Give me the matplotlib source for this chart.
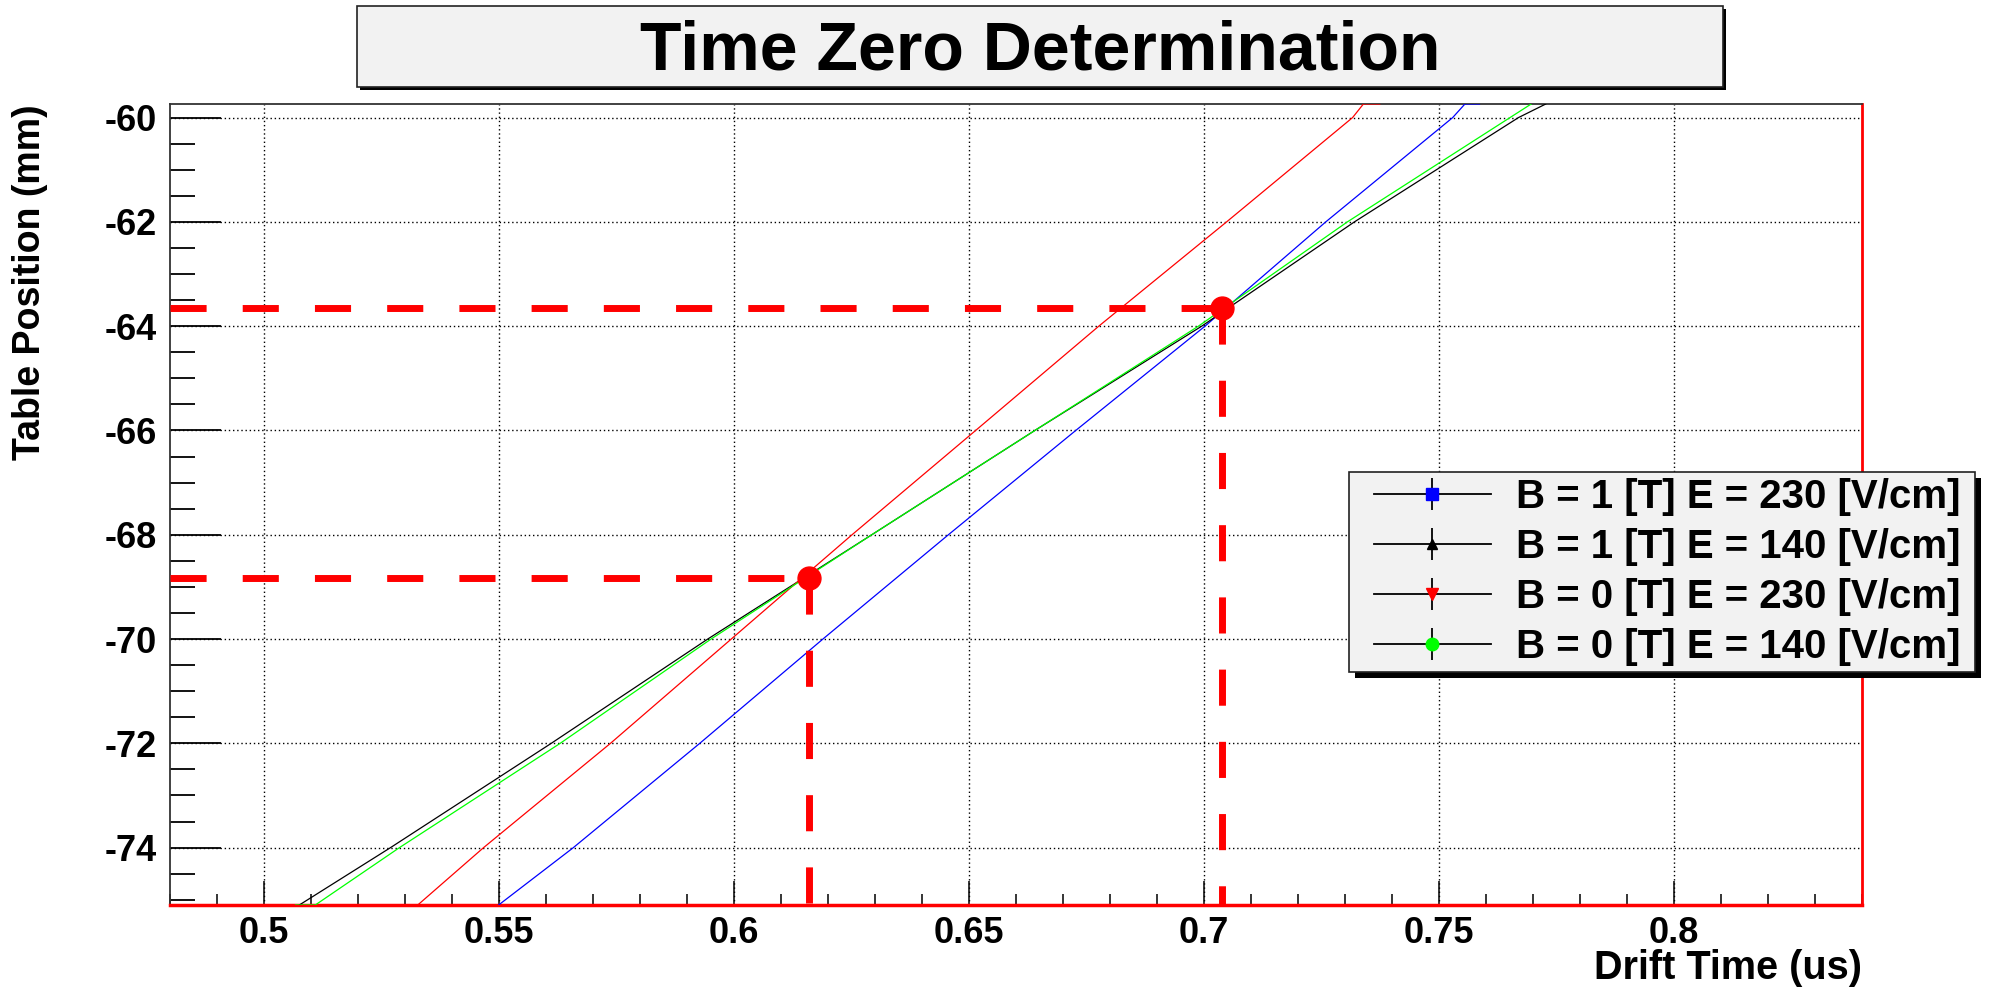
import matplotlib
matplotlib.use("Agg")
import matplotlib.pyplot as plt
from matplotlib.lines import Line2D
from matplotlib.patches import Rectangle
from matplotlib.legend_handler import HandlerTuple
from matplotlib.ticker import MultipleLocator, FuncFormatter

plt.rcParams['font.family'] = ['Liberation Sans', 'DejaVu Sans']
plt.rcParams['font.weight'] = 'bold'
plt.rcParams['axes.labelweight'] = 'bold'
plt.rcParams['axes.unicode_minus'] = False

# drift time (us) vs table position (mm)
b1_e230_t = [0.5500, 0.5659, 0.5928, 0.6190, 0.6457, 0.6728, 0.7003, 0.7260, 0.7530, 0.7556, 0.7587]
b1_e230_y = [-75.1, -74, -72, -70, -68, -66, -64, -62, -60, -59.74, -59.74]

b1_e140_t = [0.5076, 0.5270, 0.5612, 0.5945, 0.6294, 0.6641, 0.6996, 0.7321, 0.7670, 0.7728]
b1_e140_y = [-75.1, -74, -72, -70, -68, -66, -64, -62, -60, -59.74]

b0_e230_t = [0.5328, 0.5468, 0.5738, 0.5995, 0.6252, 0.6515, 0.6777, 0.7049, 0.7317, 0.7340, 0.7375]
b0_e230_y = [-75.1, -74, -72, -70, -68, -66, -64, -62, -60, -59.74, -59.74]

b0_e140_t = [0.5068, 0.5110, 0.5289, 0.5631, 0.5952, 0.6294, 0.6641, 0.6989, 0.7306, 0.7652, 0.7697]
b0_e140_y = [-75.1, -75.1, -74, -72, -70, -68, -66, -64, -62, -60, -59.74]

labels = ["B = 1 [T] E = 230 [V/cm]", "B = 1 [T] E = 140 [V/cm]",
          "B = 0 [T] E = 230 [V/cm]", "B = 0 [T] E = 140 [V/cm]"]
colors = ["#0000ff", "#000000", "#ff0000", "#00ff00"]
markers = ["s", "^", "v", "o"]

# time zero points
t0_x = [0.616, 0.704]
t0_y = [-68.82, -63.66]

W, H = 2012, 988
fig = plt.figure(figsize=(W / 100, H / 100), dpi=100)
ax = fig.add_axes([169.6 / W, 1 - 905 / H, 1692 / W, 801 / H])

series = [(b1_e230_t, b1_e230_y), (b1_e140_t, b1_e140_y),
          (b0_e230_t, b0_e230_y), (b0_e140_t, b0_e140_y)]
for (t, y), c in zip(series, colors):
    ax.plot(t, y, color=c, lw=0.9, zorder=3)

ax.set_xlim(0.48, 0.84)
ax.set_ylim(-75.1, -59.74)

# dashed guides to the time-zero points
for x, y in zip(t0_x, t0_y):
    ax.plot([0.48, x], [y, y], color="red", lw=5, ls=(0, (5.2, 5.2)),
            dash_capstyle="butt", zorder=4)
    ax.plot([x, x], [y, -75.1], color="red", lw=5, ls=(0, (5.2, 5.2)),
            dash_capstyle="butt", zorder=4)
ax.plot(t0_x, t0_y, "o", color="red", ms=16.5, zorder=5)

ax.xaxis.set_major_locator(MultipleLocator(0.05))
ax.xaxis.set_minor_locator(MultipleLocator(0.01))
ax.yaxis.set_major_locator(MultipleLocator(2))
ax.yaxis.set_minor_locator(MultipleLocator(0.5))
ax.xaxis.set_major_formatter(FuncFormatter(lambda v, p: "%g" % round(v, 3)))
ax.yaxis.set_major_formatter(FuncFormatter(lambda v, p: "%d" % round(v)))

ax.tick_params(axis="x", which="major", direction="in", length=17.3, width=1.1, pad=8, labelsize=26)
ax.tick_params(axis="x", which="minor", direction="in", length=8, width=1.1)
ax.tick_params(axis="y", which="major", direction="in", length=36.7, width=1.3, pad=9, labelsize=26)
ax.tick_params(axis="y", which="minor", direction="in", length=18, width=1.3)
ax.grid(True, which="major", color="black", ls=(0, (1, 2)), lw=1)

ax.spines["top"].set_color("#333333")
ax.spines["left"].set_color("#333333")
ax.spines["top"].set_linewidth(1.3)
ax.spines["left"].set_linewidth(1.3)
ax.spines["right"].set_color("red")
ax.spines["bottom"].set_color("red")
ax.spines["right"].set_linewidth(2)
ax.spines["bottom"].set_linewidth(2.5)

ax.set_ylabel("Table Position (mm)", fontsize=27, fontweight="bold", loc="top")
ax.yaxis.set_label_coords(-0.072, 1.0)
ax.set_xlabel("Drift Time (us)", fontsize=28.5, fontweight="bold", loc="right")
ax.xaxis.set_label_coords(1.0, -0.055)


def px_box(x0, y0, x1, y1, shadow):
    # box in figure pixels (top-left origin) with a dark drop shadow
    fig.add_artist(Rectangle(((x0 + shadow) / W, 1 - (y1 + shadow) / H),
                             (x1 - x0) / W, (y1 - y0) / H,
                             transform=fig.transFigure, facecolor="black",
                             edgecolor="none", zorder=4.8))
    fig.add_artist(Rectangle((x0 / W, 1 - y1 / H), (x1 - x0) / W, (y1 - y0) / H,
                             transform=fig.transFigure, facecolor="#f2f2f2",
                             edgecolor="#222222", lw=1.2, zorder=4.9))


# title
px_box(357, 6, 1723, 87, 3)
fig.text(1040 / W, 1 - 70 / H, "Time Zero Determination", ha="center",
         va="baseline", fontsize=49, fontweight="bold", zorder=6)

# legend
px_box(1349, 472, 1975, 672, 6)
handles = []
for c, m in zip(colors, markers):
    line = Line2D([], [], color="black", lw=1.3)
    bar = Line2D([], [], color="black", marker="|", ms=23, mew=1.3, ls="none")
    dot = Line2D([], [], color=c, marker=m, ms=9 if m != "^" else 6.5,
                 mec=c, ls="none")
    handles.append((line, bar, dot))
leg = fig.legend(handles, labels, loc="upper left",
                 bbox_to_anchor=(1374 / W, 1 - 478 / H), bbox_transform=fig.transFigure,
                 frameon=False, fontsize=29, borderpad=0, borderaxespad=0,
                 handlelength=2.9, handletextpad=0.62, labelspacing=0.3,
                 handler_map={tuple: HandlerTuple(ndivide=1, pad=0)})
leg.set_zorder(6)
for txt in leg.get_texts():
    txt.set_fontweight("bold")

fig.savefig("out.png", dpi=100)
